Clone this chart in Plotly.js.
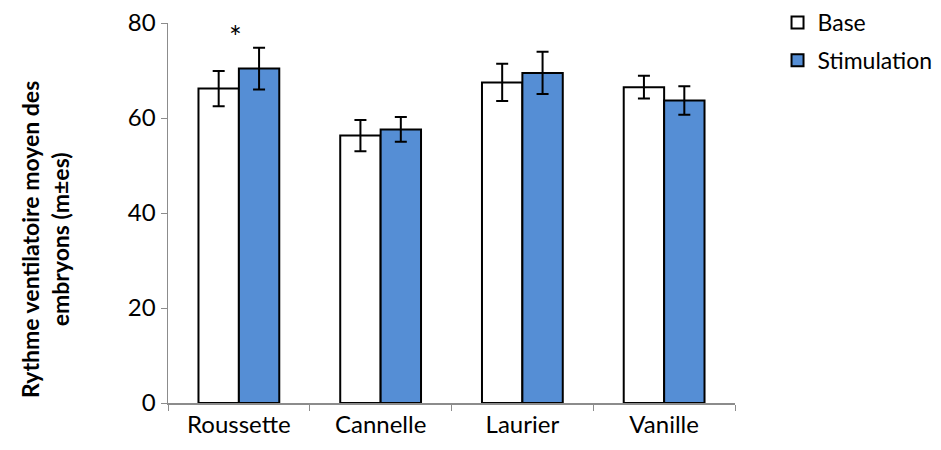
<!DOCTYPE html>
<html>
<head>
<meta charset="utf-8">
<script src="https://cdn.plot.ly/plotly-3.0.1.min.js"></script>
<style>html,body{margin:0;padding:0;background:#fff;}#chart{width:941px;height:450px;}</style>
</head>
<body>
<div id="chart"></div>
<script>
var categories = ["Roussette", "Cannelle", "Laurier", "Vanille"];
var baseValues = [66.2, 56.3, 67.5, 66.5];
var baseErrors = [3.7, 3.3, 3.9, 2.4];
var stimValues = [70.4, 57.6, 69.5, 63.7];
var stimErrors = [4.4, 2.6, 4.45, 3.0];
var yTicks = [0, 20, 40, 60, 80];
var seriesNames = ["Base", "Stimulation"];

var font = "Lato, 'Open Sans', sans-serif";

var traces = [
  {
    type: "bar", name: seriesNames[0], x: categories, y: baseValues,
    marker: {color: "#ffffff", line: {color: "#000000", width: 2}},
    error_y: {type: "data", array: baseErrors, visible: true, color: "#000000", thickness: 2, width: 6},
    legendgroup: "a"
  },
  {
    type: "bar", name: seriesNames[1], x: categories, y: stimValues,
    marker: {color: "#558ed5", line: {color: "#000000", width: 2}},
    error_y: {type: "data", array: stimErrors, visible: true, color: "#000000", thickness: 2, width: 6},
    legendgroup: "b"
  }
];

var layout = {
  width: 941, height: 450,
  margin: {l: 168, r: 206, t: 23, b: 47, autoexpand: false},
  paper_bgcolor: "#ffffff", plot_bgcolor: "#ffffff",
  barmode: "group", bargap: 0.43, bargroupgap: 0,
  font: {family: font, size: 23, color: "#000000"},
  showlegend: true,
  legend: {x: 1.075, y: 1.058, xanchor: "left", yanchor: "top", font: {family: font, size: 23},
           tracegroupgap: 5, traceorder: "grouped", itemwidth: 30, bgcolor: "rgba(0,0,0,0)"},
  xaxis: {
    type: "category", showline: true, linecolor: "#8c8c8c", linewidth: 1.5,
    ticks: "outside", tickson: "boundaries", ticklen: 6, tickcolor: "#8c8c8c",
    showgrid: false, zeroline: false, tickfont: {family: font, size: 24}, automargin: false
  },
  yaxis: {
    range: [0, 80], tickvals: yTicks, showline: true, linecolor: "#8c8c8c", linewidth: 1.5,
    ticks: "outside", ticklen: 6, tickcolor: "#8c8c8c", showgrid: false, zeroline: false,
    tickfont: {family: font, size: 24}, automargin: false
  },
  annotations: [
    {xref: "paper", yref: "paper", x: -0.218, y: 0.43, xanchor: "center", yanchor: "middle",
     textangle: -90, showarrow: false,
     text: "<b>Rythme ventilatoire moyen des<br>embryons (m±es)</b>",
     font: {family: font, size: 23}},
    {xref: "x", yref: "y", x: categories[0], y: 77.3, xshift: -3, showarrow: false,
     text: "*", font: {family: font, size: 30}, yanchor: "middle"}
  ]
};

Plotly.newPlot("chart", traces, layout, {displayModeBar: false, staticPlot: true});
</script>
</body>
</html>
